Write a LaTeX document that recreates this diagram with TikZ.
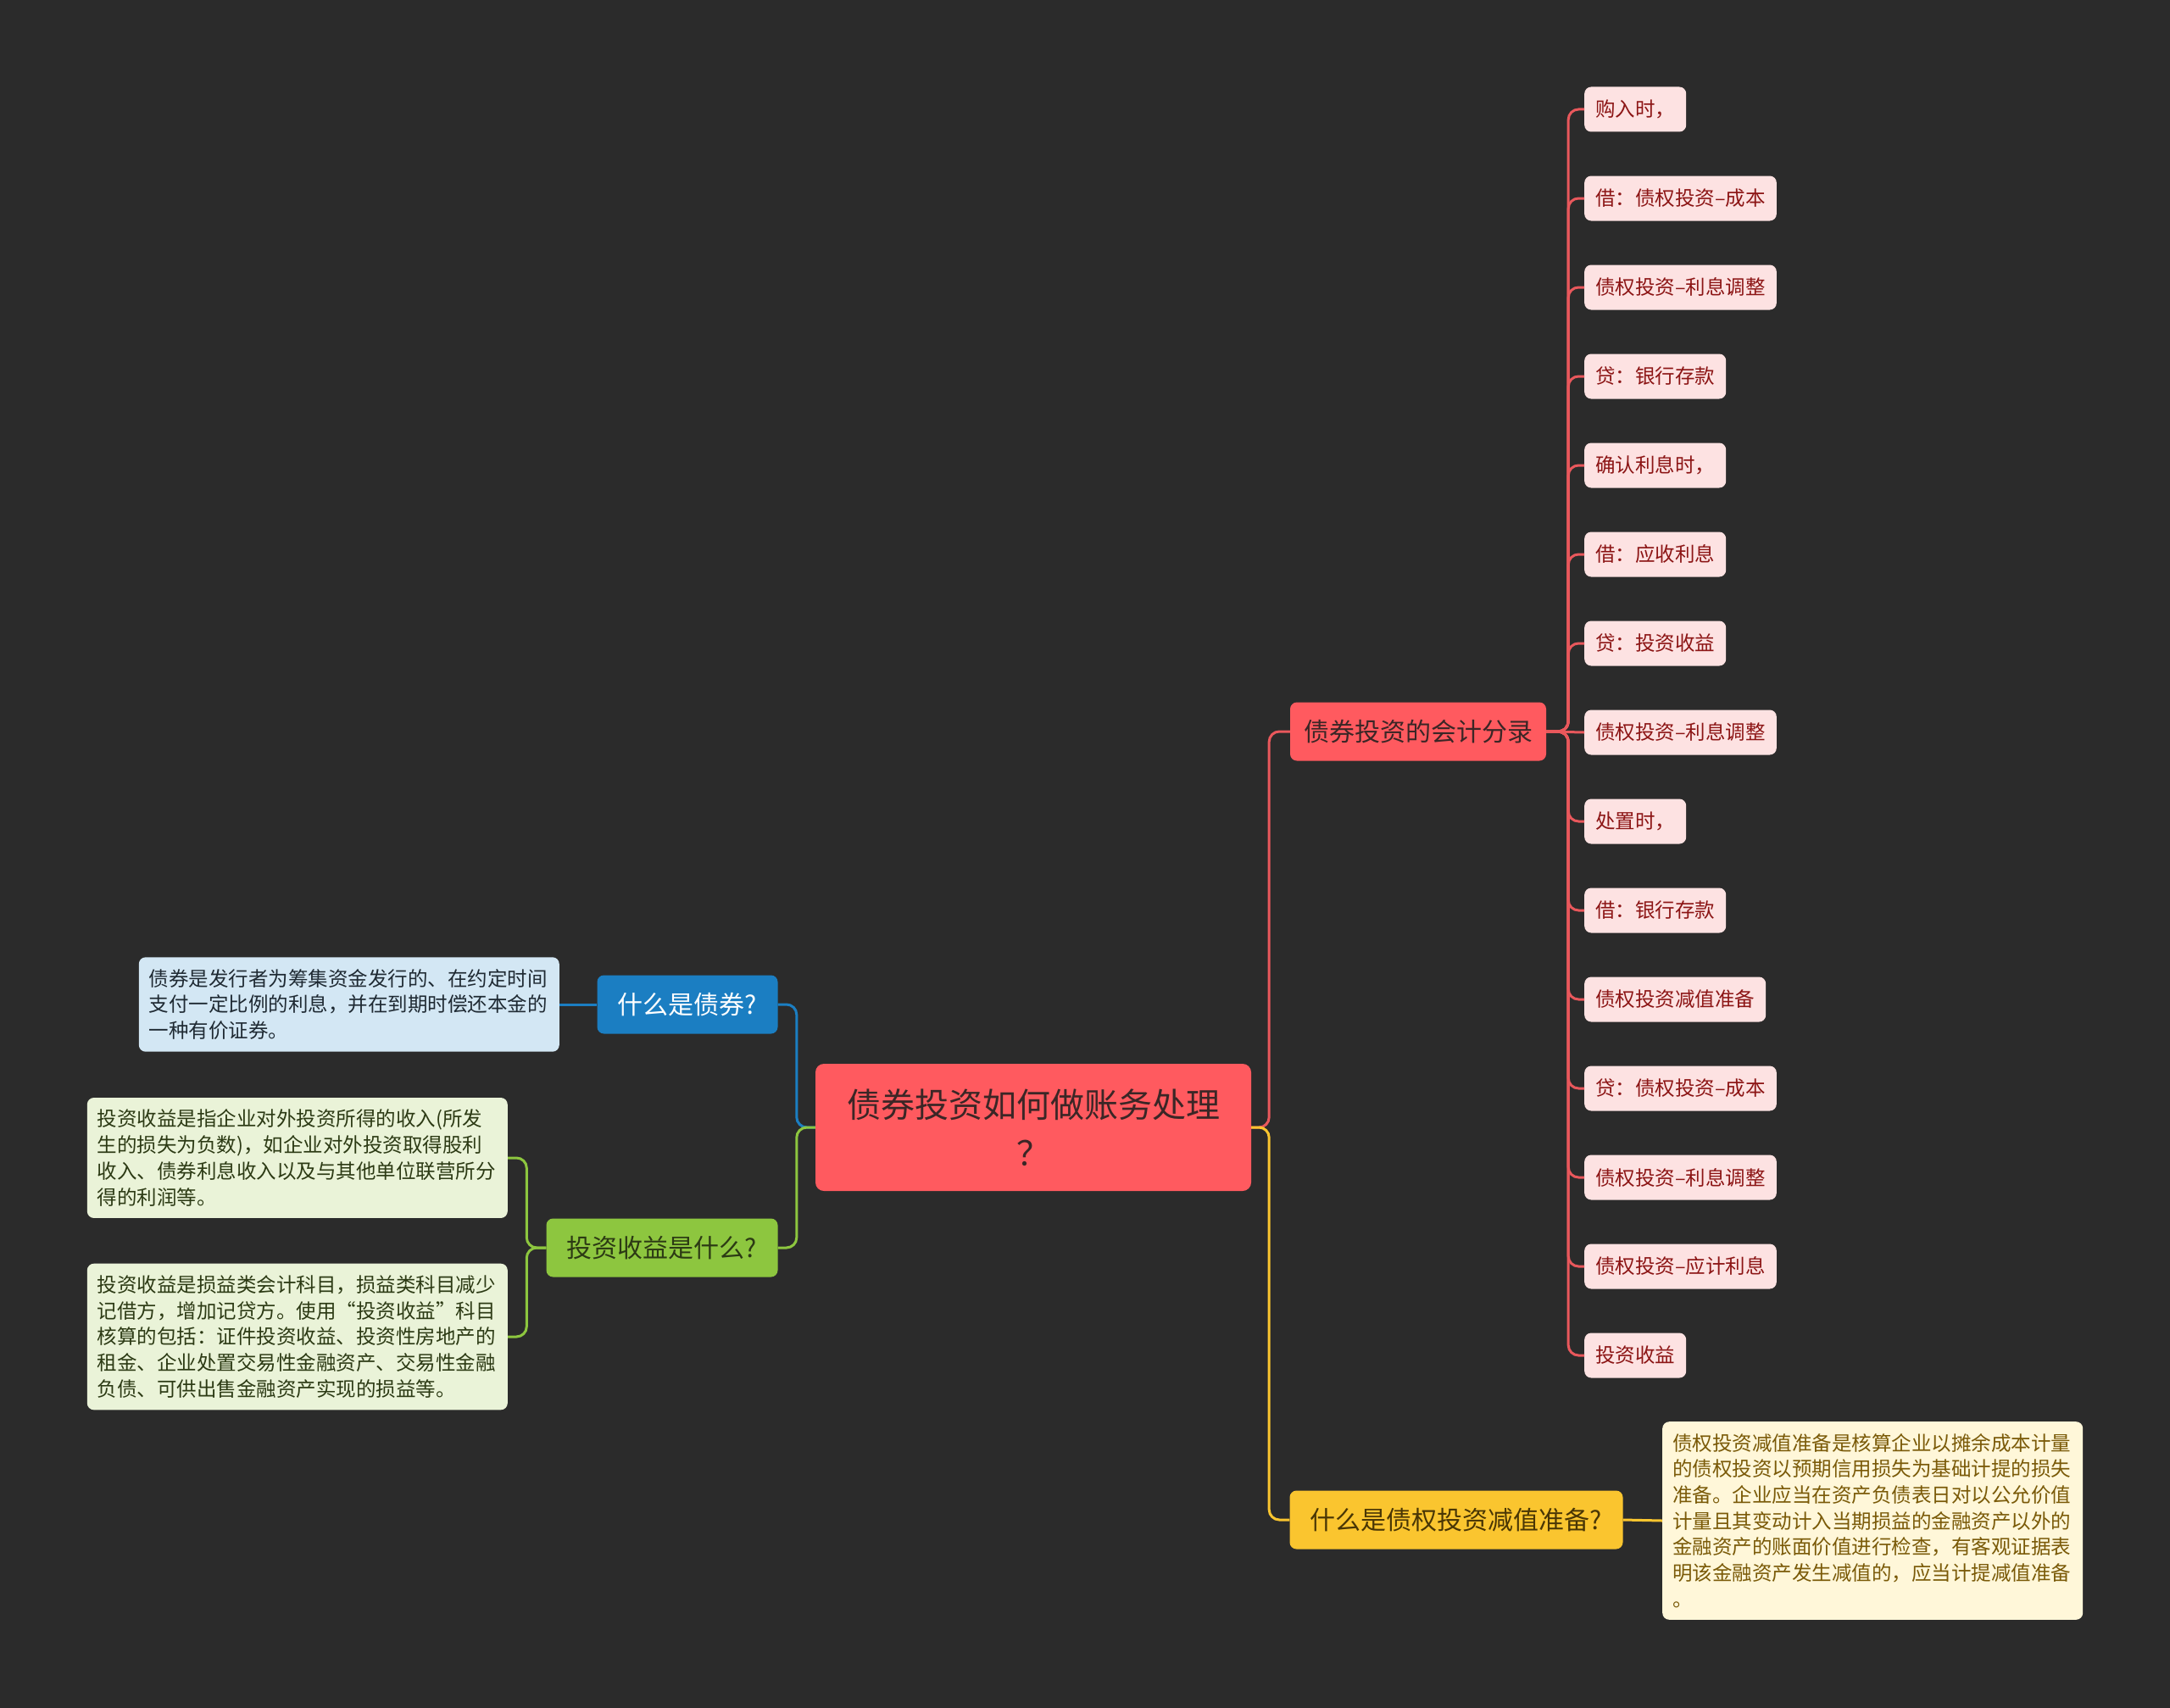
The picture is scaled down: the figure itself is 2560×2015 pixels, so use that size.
\documentclass[tikz,border=0pt]{standalone}
\usepackage{fontspec}
\setmainfont{Noto Sans CJK SC}
\definecolor{bgdark}{HTML}{2B2B2B}
\definecolor{rootfill}{HTML}{FF5A5F}
\definecolor{roottext}{HTML}{3B2626}
\definecolor{redline}{HTML}{E9585C}
\definecolor{redleaf}{HTML}{FDE2E2}
\definecolor{redtext}{HTML}{8C1515}
\definecolor{bluefill}{HTML}{1B7EC2}
\definecolor{blueleaf}{HTML}{D3E7F4}
\definecolor{bluetext}{HTML}{1F2A33}
\definecolor{greenfill}{HTML}{8DC63F}
\definecolor{greenleaf}{HTML}{EAF3D8}
\definecolor{greentext}{HTML}{2C3A14}
\definecolor{yellowfill}{HTML}{FAC52F}
\definecolor{yellowleaf}{HTML}{FFF7D9}
\definecolor{yellowtext}{HTML}{7A5A08}

\begin{document}
\begin{tikzpicture}[
  x=1pt, y=-1pt,
  root/.style={rectangle, rounded corners=10pt, fill=rootfill, text=roottext,
               minimum width=514pt, minimum height=150pt, align=center,
               font=\fontsize{40}{57}\selectfont},
  branch/.style 2 args={rectangle, rounded corners=8pt, fill=#1, text=#2,
               minimum height=69pt, inner xsep=15pt, font=\fontsize{30}{36}\selectfont},
  leaf/.style={rectangle, rounded corners=8pt, fill=redleaf, text=redtext, anchor=west,
               minimum height=53pt, inner xsep=13pt, font=\fontsize{23.5}{28}\selectfont},
  note/.style 2 args={rectangle, rounded corners=8pt, fill=#1, text=#2, align=left,
               text width=472pt, inner xsep=12pt, inner ysep=14pt,
               font=\fontsize{23.5}{30.7}\selectfont},
  segred/.style={draw=redline, line width=3pt, rounded corners=12pt},
  segblue/.style={draw=bluefill, line width=3pt, rounded corners=12pt},
  seggreen/.style={draw=greenfill, line width=3pt, rounded corners=12pt},
  segyellow/.style={draw=yellowfill, line width=3pt, rounded corners=12pt},
]
\fill[bgdark] (0,0) rectangle (2560,2015);
% ---- centre topic and its four branches
\node[root] (root) at (1219,1330) {债券投资如何做账务处理\\？};
\node[branch={bluefill}{white}, minimum width=213pt] (whatbond) at (811,1185) {什么是债券?};
\node[branch={greenfill}{greentext}, minimum width=273pt] (income) at (781,1472) {投资收益是什么?};
\node[branch={rootfill}{roottext}, minimum width=302pt] (entries) at (1673,863) {债券投资的会计分录};
\node[branch={yellowfill}{yellowtext!60!black}, minimum width=393pt] (impair) at (1718,1793) {什么是债权投资减值准备?};
\draw[segred] (root.east) -- ++(21,0) |- (entries.west);
\draw[segyellow] (root.east) -- ++(21,0) |- (impair.west);
\draw[segblue] (root.west) -- ++(-22,0) |- (whatbond.east);
\draw[seggreen] (root.west) -- ++(-22,0) |- (income.east);
% ---- left notes
\node[note={blueleaf}{bluetext}, anchor=east] (bond_def) at (660,1185) {
  债券是发行者为筹集资金发行的、在约定时间\\
  支付一定比例的利息，并在到期时偿还本金的\\
  一种有价证券。};
\node[note={greenleaf}{greentext}, anchor=east] (inc_def1) at (599,1366) {
  投资收益是指企业对外投资所得的收入(所发\\
  生的损失为负数)，如企业对外投资取得股利\\
  收入、债券利息收入以及与其他单位联营所分\\
  得的利润等。};
\node[note={greenleaf}{greentext}, anchor=east] (inc_def2) at (599,1577) {
  投资收益是损益类会计科目，损益类科目减少\\
  记借方，增加记贷方。使用“投资收益”科目\\
  核算的包括：证件投资收益、投资性房地产的\\
  租金、企业处置交易性金融资产、交易性金融\\
  负债、可供出售金融资产实现的损益等。};
\draw[segblue] (whatbond.west) -- (bond_def.east);
\draw[seggreen] (income.west) -- ++(-23,0) |- (inc_def1.east);
\draw[seggreen] (income.west) -- ++(-23,0) |- (inc_def2.east);
% ---- journal entries (red)
\node[leaf] (buy) at (1869,129) {购入时，};
\node[leaf] (buy_dr) at (1869,234) {借：债权投资–成本};
\node[leaf] (buy_adj) at (1869,339) {债权投资–利息调整};
\node[leaf] (buy_cr) at (1869,444) {贷：银行存款};
\node[leaf] (int) at (1869,549) {确认利息时，};
\node[leaf] (int_dr) at (1869,654) {借：应收利息};
\node[leaf] (int_cr) at (1869,759) {贷：投资收益};
\node[leaf] (int_adj) at (1869,864) {债权投资–利息调整};
\node[leaf] (sell) at (1869,969) {处置时，};
\node[leaf] (sell_dr) at (1869,1074) {借：银行存款};
\node[leaf] (sell_imp) at (1869,1179) {债权投资减值准备};
\node[leaf] (sell_cr) at (1869,1284) {贷：债权投资–成本};
\node[leaf] (sell_adj) at (1869,1389) {债权投资–利息调整};
\node[leaf] (sell_acc) at (1869,1494) {债权投资–应计利息};
\node[leaf] (sell_inc) at (1869,1599) {投资收益};
\draw[segred] (entries.east) -- ++(26,0) |- (buy.west);
\draw[segred] (entries.east) -- ++(26,0) |- (buy_dr.west);
\draw[segred] (entries.east) -- ++(26,0) |- (buy_adj.west);
\draw[segred] (entries.east) -- ++(26,0) |- (buy_cr.west);
\draw[segred] (entries.east) -- ++(26,0) |- (int.west);
\draw[segred] (entries.east) -- ++(26,0) |- (int_dr.west);
\draw[segred] (entries.east) -- ++(26,0) |- (int_cr.west);
\draw[segred] (entries.east) -- (int_adj.west);
\draw[segred] (entries.east) -- ++(26,0) |- (sell.west);
\draw[segred] (entries.east) -- ++(26,0) |- (sell_dr.west);
\draw[segred] (entries.east) -- ++(26,0) |- (sell_imp.west);
\draw[segred] (entries.east) -- ++(26,0) |- (sell_cr.west);
\draw[segred] (entries.east) -- ++(26,0) |- (sell_adj.west);
\draw[segred] (entries.east) -- ++(26,0) |- (sell_acc.west);
\draw[segred] (entries.east) -- ++(26,0) |- (sell_inc.west);
% ---- impairment note (yellow)
\node[note={yellowleaf}{yellowtext}, anchor=west] (imp_def) at (1961,1794) {
  债权投资减值准备是核算企业以摊余成本计量\\
  的债权投资以预期信用损失为基础计提的损失\\
  准备。企业应当在资产负债表日对以公允价值\\
  计量且其变动计入当期损益的金融资产以外的\\
  金融资产的账面价值进行检查，有客观证据表\\
  明该金融资产发生减值的，应当计提减值准备\\
  。};
\draw[segyellow] (impair.east) -- (imp_def.west);
\end{tikzpicture}
\end{document}
